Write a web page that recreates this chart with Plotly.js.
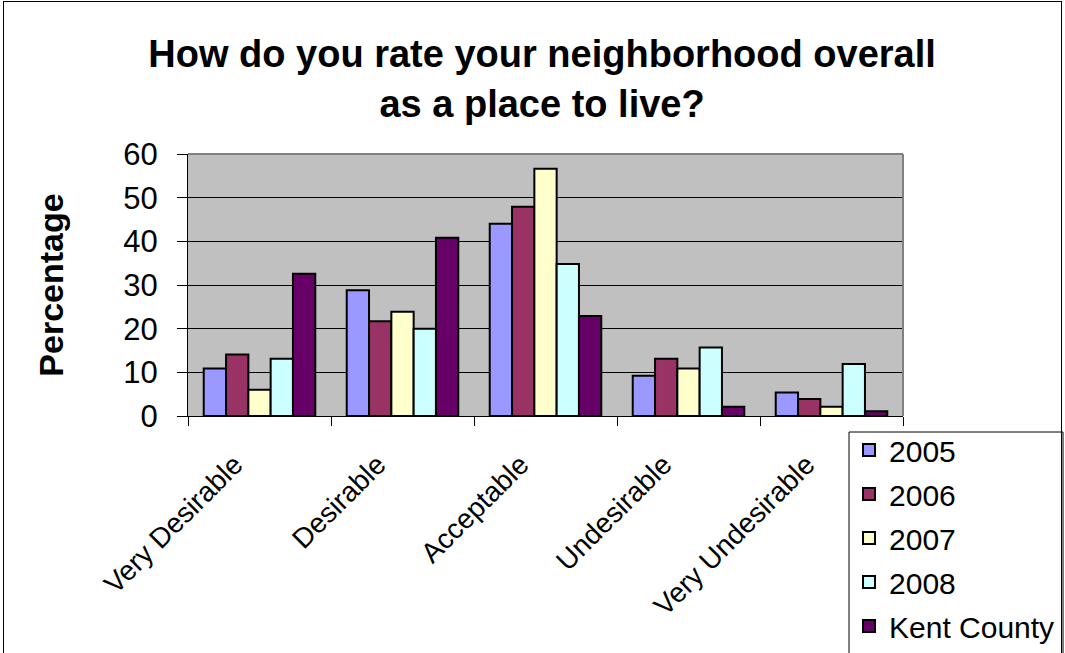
<!DOCTYPE html>
<html>
<head>
<meta charset="utf-8">
<script src="https://cdn.plot.ly/plotly-3.0.1.min.js"></script>
<style>
  html, body { margin: 0; padding: 0; background: #fff; }
  #frame { position: absolute; left: 3px; top: 1px; width: 1059px; height: 700px; border: 1px solid #000; box-sizing: border-box; pointer-events: none; z-index: 5; }
  #chart { position: absolute; left: 0; top: 0; width: 1065px; height: 653px; }
</style>
</head>
<body>
<div id="chart"></div>
<div id="frame"></div>
<script>
const categories = ["Very Desirable", "Desirable", "Acceptable", "Undesirable", "Very Undesirable"];
const seriesNames = ["2005", "2006", "2007", "2008", "Kent County"];
const values2005 = [10.9, 28.8, 44.0, 9.2, 5.4];
const values2006 = [14.1, 21.7, 47.9, 13.1, 3.9];
const values2007 = [6.0, 23.9, 56.6, 10.9, 2.1];
const values2008 = [13.1, 20.0, 34.8, 15.7, 11.9];
const valuesKent = [32.6, 40.8, 22.9, 2.1, 1.1];
const colors = ["#9999FF", "#993366", "#FFFFCC", "#CCFFFF", "#660066"];

const allValues = [values2005, values2006, values2007, values2008, valuesKent];
const traces = allValues.map((v, i) => ({
  type: "bar",
  name: seriesNames[i],
  legendgroup: "g" + i,
  x: categories,
  y: v,
  marker: { color: colors[i], line: { color: "#000", width: 2 } },
  hoverinfo: "x+y+name"
}));

const layout = {
  width: 1065,
  height: 653,
  paper_bgcolor: "#fff",
  plot_bgcolor: "#C0C0C0",
  font: { family: "Liberation Sans, Arial, sans-serif", color: "#000" },
  margin: { l: 188, r: 162, t: 154, b: 237, autoexpand: false },
  barmode: "group",
  bargap: 0.22,
  bargroupgap: 0,
  title: {
    text: "<b>How do you rate your neighborhood overall<br>as a place to live?</b>",
    font: { size: 38, family: "Liberation Sans, Arial, sans-serif" },
    x: 0.509, xanchor: "center",
    y: 0.897, yanchor: "middle"
  },
  xaxis: {
    type: "category",
    automargin: false,
    tickson: "boundaries",
    ticks: "outside",
    ticklen: 9,
    tickcolor: "#000",
    tickangle: -45,
    tickfont: { size: 28 },
    ticklabelstandoff: 20,
    ticklabelshift: -25,
    showline: true,
    linecolor: "#000",
    linewidth: 1,
    mirror: false,
    showgrid: false
  },
  yaxis: {
    range: [0, 60],
    dtick: 10,
    automargin: false,
    ticks: "outside",
    ticklen: 10,
    tickcolor: "#000",
    tickfont: { size: 31 },
    ticklabelstandoff: 13,
    showline: true,
    linecolor: "#000",
    showgrid: true,
    gridcolor: "#000",
    gridwidth: 1,
    zeroline: false,
    title: { text: "<b>Percentage</b>", font: { size: 34 }, standoff: 49 }
  },
  shapes: [
    { type: "line", xref: "paper", yref: "paper", x0: 0, x1: 1, y0: 1, y1: 1, line: { color: "#808080", width: 2 } },
    { type: "line", xref: "paper", yref: "paper", x0: 1, x1: 1, y0: 0, y1: 1, line: { color: "#808080", width: 2 } },
    { type: "rect", xref: "paper", yref: "paper", x0: 0.9245, x1: 1.2238, y0: -0.0611, y1: -0.93, layer: "below", fillcolor: "#fff", line: { color: "#000", width: 1 } }
  ],
  legend: {
    x: 0.9245, xanchor: "left",
    y: -0.0305, yanchor: "top",
    bgcolor: "rgba(0,0,0,0)",
    borderwidth: 0,
    font: { size: 30 },
    traceorder: "grouped",
    tracegroupgap: 2
  },
  showlegend: true
};

Plotly.newPlot("chart", traces, layout, { displayModeBar: false, staticPlot: true });
</script>
</body>
</html>
